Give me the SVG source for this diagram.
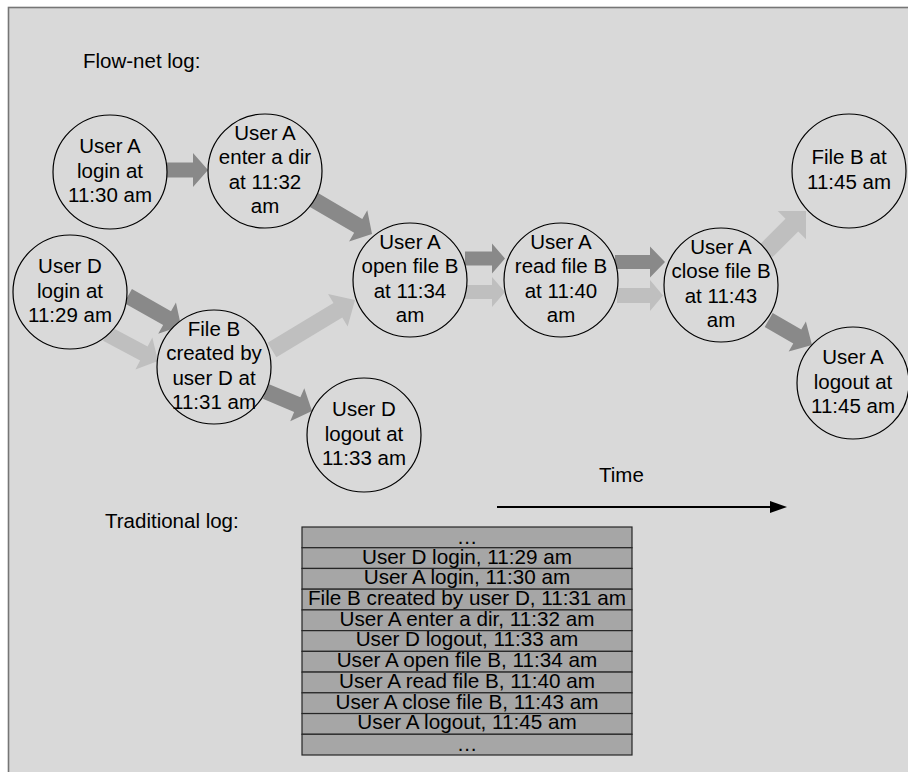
<svg xmlns="http://www.w3.org/2000/svg" width="908" height="772" viewBox="0 0 908 772">
<style>
text{font-family:"Liberation Sans",Arial,sans-serif;fill:#000}
.lbl{font-size:20.5px}
.nd{font-size:20.5px;text-anchor:middle}
.tb{font-size:20.7px;text-anchor:middle}
.circ{fill:#d9d9d9;stroke:#000;stroke-width:1.2}
.dk{fill:#898989}
.lt{fill:#bfbfbf}
.row{fill:#a6a6a6;stroke:#262626;stroke-width:1.2}
</style>
<rect x="0" y="0" width="908" height="772" fill="#ffffff"/>
<rect x="8.5" y="7.5" width="920" height="790" fill="#d9d9d9" stroke="#767676" stroke-width="1.6"/>
<text class="lbl" x="83" y="68">Flow-net log:</text>
<text class="lbl" x="105" y="528">Traditional log:</text>
<text class="lbl" x="599" y="482">Time</text>
<g id="time-arrow">
<line x1="497" y1="507" x2="772" y2="507" stroke="#000" stroke-width="2.2"/>
<polygon points="770,501 787,507 770,513" fill="#000"/>
</g>
<g id="connectors">
<polygon class="dk" points="166,162.5 193,162.5 193,153 208,170 193,187 193,177.5 166,177.5"/>
<polygon class="dk" points="309.95,206.9 354.15,232.8 349.1,241.43 372,234 367.3,210.37 362.25,219 318.05,193.1"/>
<polygon class="dk" points="124.06,302.96 163.14,325.08 158.21,333.78 181,326 175.95,302.46 171.02,311.16 131.94,289.04"/>
<polygon class="lt" points="103.05,340.86 140.12,360.56 135.43,369.39 158,361 152.31,337.61 147.62,346.44 110.55,326.74"/>
<polygon class="lt" points="276.39,357.28 342.26,317.6 347.67,326.6 355,300 328.07,294.04 333.48,303.04 267.61,342.72"/>
<polygon class="dk" points="262.87,398.87 294.13,412.11 290.22,421.32 312,411 304.3,388.16 300.39,397.37 269.13,384.13"/>
<polygon class="dk" points="465,251.5 492,251.5 492,243.5 505,258.5 492,273.5 492,265.5 465,265.5"/>
<polygon class="lt" points="465,285 492,285 492,277 505,292 492,307 492,299 465,299"/>
<polygon class="dk" points="615,255 650,255 650,246.5 665,262 650,277.5 650,269 615,269"/>
<polygon class="lt" points="617,288 650,288 650,280 663,295.5 650,311 650,303 617,303"/>
<polygon class="lt" points="772.36,257.36 798.22,231.5 806,239.28 806,211 777.72,211 785.5,218.78 759.64,244.64"/>
<polygon class="dk" points="764.7,326.93 793.28,343.43 788.68,351.4 812,345 805.88,321.6 801.28,329.57 772.7,313.07"/>
</g>
<g id="n-a-login">
<circle class="circ" cx="110" cy="172" r="57"/>
<text class="nd" x="110" y="153">User A</text>
<text class="nd" x="110" y="177.5">login at</text>
<text class="nd" x="110" y="202">11:30 am</text>
</g>
<g id="n-a-enter">
<circle class="circ" cx="265" cy="171" r="57"/>
<text class="nd" x="265" y="139.75">User A</text>
<text class="nd" x="265" y="164.25">enter a dir</text>
<text class="nd" x="265" y="188.75">at 11:32</text>
<text class="nd" x="265" y="213.25">am</text>
</g>
<g id="n-d-login">
<circle class="circ" cx="70" cy="292" r="57"/>
<text class="nd" x="70" y="273">User D</text>
<text class="nd" x="70" y="297.5">login at</text>
<text class="nd" x="70" y="322">11:29 am</text>
</g>
<g id="n-fileb-created">
<circle class="circ" cx="214" cy="367" r="57"/>
<text class="nd" x="214" y="335.75">File B</text>
<text class="nd" x="214" y="360.25">created by</text>
<text class="nd" x="214" y="384.75">user D at</text>
<text class="nd" x="214" y="409.25">11:31 am</text>
</g>
<g id="n-d-logout">
<circle class="circ" cx="364" cy="435" r="57"/>
<text class="nd" x="364" y="416">User D</text>
<text class="nd" x="364" y="440.5">logout at</text>
<text class="nd" x="364" y="465">11:33 am</text>
</g>
<g id="n-a-open">
<circle class="circ" cx="410" cy="280" r="57"/>
<text class="nd" x="410" y="248.75">User A</text>
<text class="nd" x="410" y="273.25">open file B</text>
<text class="nd" x="410" y="297.75">at 11:34</text>
<text class="nd" x="410" y="322.25">am</text>
</g>
<g id="n-a-read">
<circle class="circ" cx="561" cy="280" r="57"/>
<text class="nd" x="561" y="248.75">User A</text>
<text class="nd" x="561" y="273.25">read file B</text>
<text class="nd" x="561" y="297.75">at 11:40</text>
<text class="nd" x="561" y="322.25">am</text>
</g>
<g id="n-a-close">
<circle class="circ" cx="721" cy="285" r="57"/>
<text class="nd" x="721" y="253.75">User A</text>
<text class="nd" x="721" y="278.25">close file B</text>
<text class="nd" x="721" y="302.75">at 11:43</text>
<text class="nd" x="721" y="327.25">am</text>
</g>
<g id="n-fileb-1145">
<circle class="circ" cx="849" cy="171" r="57"/>
<text class="nd" x="849" y="164.25">File B at</text>
<text class="nd" x="849" y="188.75">11:45 am</text>
</g>
<g id="n-a-logout">
<circle class="circ" cx="853" cy="383" r="56"/>
<text class="nd" x="853" y="364">User A</text>
<text class="nd" x="853" y="388.5">logout at</text>
<text class="nd" x="853" y="413">11:45 am</text>
</g>
<g id="traditional-log">
<rect class="row" x="302" y="527" width="330" height="20.73"/>
<rect class="row" x="302" y="547.73" width="330" height="20.73"/>
<rect class="row" x="302" y="568.45" width="330" height="20.73"/>
<rect class="row" x="302" y="589.18" width="330" height="20.73"/>
<rect class="row" x="302" y="609.91" width="330" height="20.73"/>
<rect class="row" x="302" y="630.64" width="330" height="20.73"/>
<rect class="row" x="302" y="651.36" width="330" height="20.73"/>
<rect class="row" x="302" y="672.09" width="330" height="20.73"/>
<rect class="row" x="302" y="692.82" width="330" height="20.73"/>
<rect class="row" x="302" y="713.55" width="330" height="20.73"/>
<rect class="row" x="302" y="734.27" width="330" height="20.73"/>
<text class="tb" x="467" y="544">…</text>
<text class="tb" x="467" y="563.5">User D login, 11:29 am</text>
<text class="tb" x="467" y="584.2">User A login, 11:30 am</text>
<text class="tb" x="467" y="604.9">File B created by user D, 11:31 am</text>
<text class="tb" x="467" y="625.6">User A enter a dir, 11:32 am</text>
<text class="tb" x="467" y="646.4">User D logout, 11:33 am</text>
<text class="tb" x="467" y="667.1">User A open file B, 11:34 am</text>
<text class="tb" x="467" y="687.8">User A read file B, 11:40 am</text>
<text class="tb" x="467" y="708.6">User A close file B, 11:43 am</text>
<text class="tb" x="467" y="729.3">User A logout, 11:45 am</text>
<text class="tb" x="467" y="751">…</text>
</g>
</svg>
